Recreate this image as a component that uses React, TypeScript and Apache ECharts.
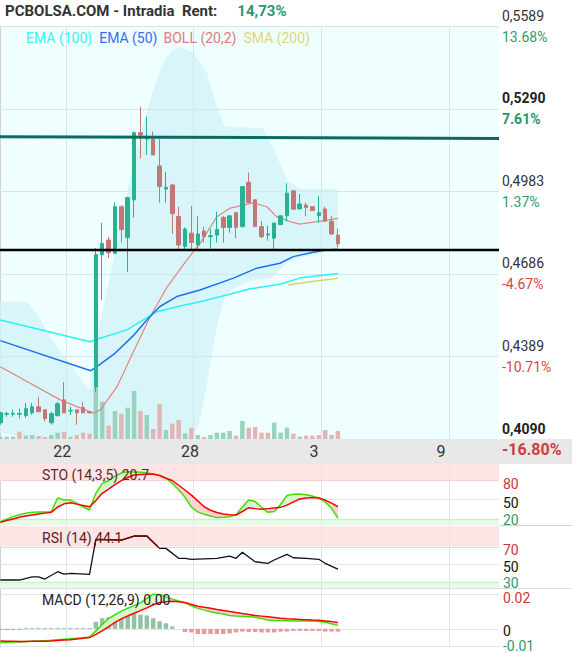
import React, { useEffect, useRef, useState } from 'react';
import * as echarts from 'echarts';

const W = 572;
const H = 653;
const FONT = 'Roboto, "Noto Sans", "DejaVu Sans", sans-serif';

// ---------- main chart data (x = candle index) ----------
// [open, close, low, high]
const candles: number[][] = [
  [0.4149, 0.4185, 0.4142, 0.4189], [0.4180, 0.4182, 0.4171, 0.4189], [0.4180, 0.4183, 0.4171, 0.4196],
  [0.4180, 0.4182, 0.4164, 0.4200], [0.4175, 0.4200, 0.4167, 0.4221], [0.4185, 0.4207, 0.4178, 0.4221],
  [0.4207, 0.4189, 0.4189, 0.4243], [0.4196, 0.4164, 0.4153, 0.4196], [0.4149, 0.4182, 0.4142, 0.4189],
  [0.4175, 0.4218, 0.4171, 0.4225], [0.4232, 0.4185, 0.4185, 0.4297], [0.4192, 0.4194, 0.4178, 0.4207],
  [0.4196, 0.4185, 0.4142, 0.4196], [0.4204, 0.4185, 0.4185, 0.4225], [0.4189, 0.4185, 0.4182, 0.4189],
  [0.4279, 0.4759, 0.4261, 0.4784], [0.4759, 0.4800, 0.4595, 0.4874], [0.4812, 0.4766, 0.4747, 0.4824],
  [0.4764, 0.4933, 0.4762, 0.4948], [0.4933, 0.4850, 0.4803, 0.4939], [0.4821, 0.4966, 0.4697, 0.4969],
  [0.4958, 0.5202, 0.4894, 0.5206], [0.5202, 0.5193, 0.5109, 0.5296], [0.5179, 0.5184, 0.5121, 0.5260],
  [0.5178, 0.5121, 0.5121, 0.5206], [0.5081, 0.5006, 0.4948, 0.5178], [0.4997, 0.5004, 0.4948, 0.5060],
  [0.5012, 0.4908, 0.4834, 0.5016], [0.4898, 0.4794, 0.4776, 0.4933], [0.4789, 0.4852, 0.4776, 0.4858],
  [0.4837, 0.4803, 0.4776, 0.4936], [0.4794, 0.4834, 0.4776, 0.4898], [0.4845, 0.4824, 0.4803, 0.4861],
  [0.4824, 0.4828, 0.4781, 0.4852], [0.4830, 0.4850, 0.4803, 0.4915], [0.4894, 0.4858, 0.4803, 0.4900],
  [0.4858, 0.4900, 0.4839, 0.4900], [0.4911, 0.4858, 0.4819, 0.4915], [0.4861, 0.5006, 0.4858, 0.5008],
  [0.5022, 0.4948, 0.4948, 0.5057], [0.4958, 0.4861, 0.4861, 0.4961], [0.4861, 0.4824, 0.4819, 0.4881],
  [0.4830, 0.4834, 0.4810, 0.4864], [0.4819, 0.4874, 0.4776, 0.4874], [0.4868, 0.4900, 0.4868, 0.4901],
  [0.4900, 0.4982, 0.4880, 0.5018], [0.4991, 0.4924, 0.4922, 0.4994], [0.4925, 0.4943, 0.4925, 0.4979],
  [0.4939, 0.4930, 0.4898, 0.4948], [0.4933, 0.4919, 0.4919, 0.4933], [0.4901, 0.4911, 0.4874, 0.4972],
  [0.4925, 0.4880, 0.4880, 0.4933], [0.4880, 0.4834, 0.4830, 0.4900], [0.4830, 0.4798, 0.4785, 0.4853],
];

const volumes = [
  7, 7, 7, 22, 10, 12, 9, 6, 12, 19,
  22, 6, 12, 19, 16, 155, 112, 40, 84, 76,
  94, 144, 84, 72, 30, 105, 27, 46, 57, 17,
  34, 12, 6, 12, 19, 19, 24, 10, 54, 34,
  36, 19, 19, 49, 19, 34, 16, 7, 10, 10,
  12, 27, 12, 24,
];
const volumeUp = [
  1, 1, 1, 0, 1, 1, 0, 0, 1, 1,
  0, 1, 0, 0, 0, 1, 1, 0, 1, 0,
  1, 1, 0, 1, 0, 0, 1, 0, 0, 1,
  0, 1, 0, 1, 1, 1, 1, 0, 1, 0,
  0, 0, 0, 1, 1, 1, 0, 1, 0, 0,
  0, 0, 0, 0,
];

const ema100: number[][] = [
  [0, 0.4522], [14.1, 0.4443], [15.65, 0.4456], [19.85, 0.4486], [22.45, 0.4522], [24.55, 0.4552],
  [27.7, 0.4570], [31.35, 0.4588], [35.55, 0.4613], [39.2, 0.4635], [43.9, 0.4652], [47, 0.4674], [53, 0.4691],
];
const ema50: number[][] = [
  [0, 0.4447], [14.2, 0.4338], [15, 0.4350], [18, 0.4401], [21, 0.4468], [23, 0.4522], [25, 0.4570],
  [27.7, 0.4607], [31.35, 0.4631], [36.5, 0.4673], [40.25, 0.4710], [43.9, 0.4728], [46, 0.4752],
  [49.1, 0.4768], [51.2, 0.4776], [53, 0.4779],
];
const sma200: number[][] = [[45.2, 0.4649], [48.6, 0.4661], [53, 0.4673]];
const bollMid: number[][] = [
  [0, 0.4352], [9.4, 0.4232], [14.6, 0.4184], [15.7, 0.4196], [18.3, 0.4279], [20.8, 0.4402],
  [23.5, 0.4533], [26.2, 0.4642], [29.3, 0.4740], [31.4, 0.4801], [34, 0.4897], [36.1, 0.4928],
  [39.7, 0.4947], [41.9, 0.4932], [43.4, 0.4896], [45.5, 0.4879], [47, 0.4870], [49.7, 0.4879], [53, 0.4891],
];
const bollUpper: number[][] = [
  [0, 0.4588], [4.2, 0.4587], [5.7, 0.4547], [7.8, 0.4460], [10.5, 0.4377], [13, 0.4293], [14, 0.4268],
  [15, 0.4431], [16, 0.4551], [17, 0.4656], [18, 0.4765], [19, 0.4878], [20, 0.4994], [21, 0.5103],
  [22, 0.5193], [23, 0.5277], [24, 0.5357], [25, 0.5422], [26, 0.5473], [27, 0.5502], [28.2, 0.5513],
  [30.3, 0.5491], [32.45, 0.5418], [34, 0.5295], [35.3, 0.5222], [41.2, 0.5219], [42.8, 0.5150],
  [45, 0.5030], [47.05, 0.4997], [53, 0.4997],
];
const bollLower: number[][] = [
  [0, 0.4115], [4.66, 0.4061], [9.4, 0.4014], [14, 0.4108], [15, 0.3941], [17.2, 0.3651], [21.9, 0.3433],
  [26.6, 0.3651], [30.25, 0.4047], [31.35, 0.4159], [32.45, 0.4293], [34, 0.4500], [35.3, 0.4613],
  [36.85, 0.4638], [39.2, 0.4664], [41.2, 0.4671], [42.8, 0.4678], [45, 0.4729], [47.05, 0.4747],
  [50.2, 0.4765], [53, 0.4783],
];
const resistanceLine = [0.5187, 0.5181];
const supportLine = [0.4776, 0.4776];

const priceGrid = [0.409, 0.43898, 0.46896, 0.49894, 0.52892, 0.5589];
const priceLabels = ['0,4090', '0,4389', '0,4686', '0,4983', '0,5290', '0,5589'];
const pctLabels = ['-16.80%', '-10.71%', '-4.67%', '1.37%', '7.61%', '13.68%'];
const boldLevels = [true, false, false, false, true, false];

const dayGridPos = [10.27, 30.27, 50.35, 70.44];
const dayLabelPos = [9.73, 29.78, 49.25, 69.2];
const dayLabels = ['22', '28', '3', '9'];

// ---------- indicators ----------
const stoK = [
  15, 19, 23, 26, 28.5, 30, 30.2, 30.4, 30.6, 52,
  48.8, 48.8, 44, 38, 33.3, 59.3, 74.9, 78.9, 86, 91,
  92.9, 92.5, 92, 91.4, 89, 87, 83, 75, 65, 53,
  38, 30.5, 26.6, 24, 21.5, 22, 22.8, 26, 38, 49,
  46.5, 38, 29.7, 31, 42, 56, 57.8, 58.1, 57, 55,
  52, 46, 36, 20.7,
];
const stoD = [
  14.1, 17, 19.5, 22, 24, 25.5, 27, 28.5, 29.7, 38,
  43, 44.5, 42.5, 40.5, 38.4, 48, 59.3, 66, 73, 79,
  84, 87.8, 88.5, 89, 89.3, 87, 82.9, 79.3, 71.9, 64.5,
  56.6, 47.5, 38.4, 33, 29.5, 27, 26, 25.5, 31, 36.9,
  35.5, 34.5, 35.5, 36.5, 37.5, 41, 46, 50.5, 52, 53,
  52, 48.8, 44, 38.4,
];
const rsi: number[][] = [
  [0, 31.7], [3, 31.7], [5, 35.4], [6, 35.4], [7, 32.8], [9, 41.2], [10, 38.5], [11, 39.3], [14, 38.2],
  [15, 78.2], [19, 77.4], [21, 82], [23, 82], [25, 67.9], [26, 67.9], [28, 56.5], [29, 56.5], [30, 55.4],
  [34, 56.5], [36, 59.1], [37, 56.5], [38, 63.4], [40, 52.6], [42, 50.8], [43, 54.6], [45, 61.1],
  [46, 57.2], [48, 56.5], [50, 55.4], [51, 50.8], [53, 44.1],
];
// the part of the RSI line drawn in dark red (above 70)
const rsiOverbought: number[][] = [[14.8, 70], [15, 78.2], [19, 77.4], [21, 82], [23, 82], [24.7, 70]];
const macdLine = [
  -0.0080, -0.0079, -0.0077, -0.0076, -0.0074, -0.0073, -0.0071, -0.0069, -0.0067, -0.0064,
  -0.0061, -0.0058, -0.0055, -0.0052, -0.0048, -0.0012, 0.0025, 0.0060, 0.0082, 0.0103,
  0.0120, 0.0135, 0.0151, 0.0178, 0.0202, 0.0200, 0.0186, 0.0173, 0.0162, 0.0150,
  0.0134, 0.0119, 0.0109, 0.0099, 0.0092, 0.0086, 0.0078, 0.0075, 0.0073, 0.0070,
  0.0067, 0.0060, 0.0052, 0.0049, 0.0048, 0.0047, 0.0046, 0.0046, 0.0046, 0.0045,
  0.0043, 0.0038, 0.0030, 0.0020,
];
const signalLine = [
  -0.0071, -0.0072, -0.0073, -0.0074, -0.0074, -0.0073, -0.0072, -0.0072, -0.0071, -0.0068,
  -0.0065, -0.0063, -0.0059, -0.0055, -0.0051, -0.0032, -0.0012, 0.0013, 0.0038, 0.0058,
  0.0075, 0.0091, 0.0106, 0.0122, 0.0140, 0.0153, 0.0158, 0.0161, 0.0158, 0.0154,
  0.0142, 0.0132, 0.0126, 0.0120, 0.0113, 0.0107, 0.0101, 0.0095, 0.0089, 0.0084,
  0.0078, 0.0074, 0.0070, 0.0066, 0.0062, 0.0059, 0.0057, 0.0055, 0.0053, 0.0051,
  0.0050, 0.0046, 0.0042, 0.0037,
];
const macdHist = [
  -0.0007, -0.0007, -0.0007, -0.0007, 0.0005, 0.0005, 0.0005, 0.0005, 0.0005, 0.0005,
  0.0005, 0.0005, 0.0005, 0.0005, 0.0005, 0.0041, 0.0062, 0.0067, 0.0074, 0.0080,
  0.0076, 0.0089, 0.0083, 0.0078, 0.0062, 0.0044, 0.0032, 0.0014, 0, -0.0018,
  -0.0021, -0.0030, -0.0030, -0.0030, -0.0030, -0.0030, -0.0027, -0.0021, -0.0016, -0.0018,
  -0.0018, -0.0021, -0.0021, -0.0021, -0.0016, -0.0016, -0.0012, -0.0012, -0.0012, -0.0012,
  -0.0012, -0.0016, -0.0016, -0.0016,
];

const stoTicks = [20, 50, 80];
const rsiTicks = [30, 50, 70];
const macdTicks = [-0.01, 0, 0.02];

const XMIN = -0.05;
const XMAX = 78.29;

function nearestIndex(arr: number[], v: number) {
  let best = 0;
  for (let i = 1; i < arr.length; i++) if (Math.abs(arr[i] - v) < Math.abs(arr[best] - v)) best = i;
  return best;
}

function fillBetween(a: number[], b: number[], upColor: string, downColor: string) {
  return (params: any, api: any) => {
    const i = params.dataIndex;
    if (i >= a.length - 1) return null;
    const a0 = a[i], a1 = a[i + 1], b0 = b[i], b1 = b[i + 1];
    const pA0 = api.coord([i, a0]);
    const pA1 = api.coord([i + 1, a1]);
    const pB0 = api.coord([i, b0]);
    const pB1 = api.coord([i + 1, b1]);
    const d0 = a0 - b0;
    const d1 = a1 - b1;
    if (d0 * d1 >= 0) {
      const col = d0 + d1 >= 0 ? upColor : downColor;
      return { type: 'polygon', shape: { points: [pA0, pA1, pB1, pB0] }, style: { fill: col } };
    }
    const t = d0 / (d0 - d1);
    const px = pA0[0] + (pA1[0] - pA0[0]) * t;
    const py = pA0[1] + (pA1[1] - pA0[1]) * t;
    return {
      type: 'group',
      children: [
        { type: 'polygon', shape: { points: [pA0, [px, py], pB0] }, style: { fill: d0 > 0 ? upColor : downColor } },
        { type: 'polygon', shape: { points: [[px, py], pA1, pB1] }, style: { fill: d1 > 0 ? upColor : downColor } },
      ],
    };
  };
}

type Level = { v: number; color: string };
type Band = { from: number; to: number; color: string };

// grid guides (bands, horizontal and vertical grid lines) placed through the axes' scales
function guideSeries(xi: number, yi: number, yMid: number, hLevels: Level[], bands: Band[], vColor: string, z: number) {
  return {
    type: 'custom',
    xAxisIndex: xi,
    yAxisIndex: yi,
    silent: true,
    z,
    data: [[0, yMid]],
    renderItem: (params: any, api: any) => {
      const cs = params.coordSys;
      const top = cs.y;
      const bottom = cs.y + cs.height;
      const children: any[] = [];
      bands.forEach((b) => {
        const y1 = Math.min(Math.max(api.coord([0, b.from])[1], top), bottom);
        const y2 = Math.min(Math.max(api.coord([0, b.to])[1], top), bottom);
        children.push({
          type: 'rect',
          shape: { x: cs.x, y: Math.min(y1, y2), width: cs.width, height: Math.abs(y2 - y1) },
          style: { fill: b.color },
        });
      });
      dayGridPos.forEach((v) => {
        const x = Math.round(api.coord([v, yMid])[0]) + 0.5;
        children.push({ type: 'line', shape: { x1: x, y1: top, x2: x, y2: bottom }, style: { stroke: vColor, lineWidth: 1 } });
      });
      hLevels.forEach((l) => {
        const y = Math.round(api.coord([0, l.v])[1]) + 0.5;
        children.push({ type: 'line', shape: { x1: cs.x, y1: y, x2: cs.x + cs.width, y2: y }, style: { stroke: l.color, lineWidth: 1 } });
      });
      return { type: 'group', children };
    },
  };
}

function buildOption(): any {
  const subLabel = (ticks: number[], labels: string[], styles: string[], pads: number[]) => ({
    customValues: ticks,
    margin: 4,
    formatter: (v: number) => {
      const k = nearestIndex(ticks, v);
      return `{${styles[k]}${k}|${labels[k]}}`;
    },
    rich: {
      r2: { fontSize: 14, color: '#cc3838', fontFamily: FONT, padding: [pads[2], 0, 0, 0] },
      k1: { fontSize: 14, color: '#111111', fontFamily: FONT, padding: [pads[1], 0, 0, 0] },
      g0: { fontSize: 14, color: '#2e9a6c', fontFamily: FONT, padding: [pads[0], 0, 0, 0] },
    },
  });
  const lineBase = { type: 'line', symbol: 'none', silent: true, animation: false };

  const series: any[] = [];

  // main: Bollinger band shading
  series.push({
    type: 'custom',
    xAxisIndex: 0,
    yAxisIndex: 0,
    silent: true,
    z: 1,
    data: [[0, 0.45]],
    renderItem: (params: any, api: any) => {
      const cs = params.coordSys;
      const bottom = cs.y + cs.height;
      const clamp = (p: number[]) => [p[0], Math.min(Math.max(p[1], cs.y), bottom)];
      const pts = bollUpper
        .map((p) => clamp(api.coord(p)))
        .concat(bollLower.slice().reverse().map((p) => clamp(api.coord(p))));
      return { type: 'polygon', shape: { points: pts }, style: { fill: '#d8f6f9' } };
    },
  });
  series.push(
    guideSeries(0, 0, 0.45, priceGrid.slice(1).map((v) => ({ v, color: '#d3e9e9' })), [], '#d3e9e9', 2),
  );
  // volume
  series.push({
    type: 'bar',
    xAxisIndex: 0,
    yAxisIndex: 1,
    barWidth: 4.5,
    silent: true,
    z: 3,
    data: volumes.map((v, i) => ({
      value: [i, v],
      itemStyle: { color: volumeUp[i] ? '#98d3bf' : '#e3b6b6' },
    })),
  });
  series.push({ ...lineBase, name: 'BOLL', xAxisIndex: 0, yAxisIndex: 0, z: 4, data: bollMid, lineStyle: { color: '#e38585', width: 1.2 } });
  series.push({ ...lineBase, name: 'EMA100', xAxisIndex: 0, yAxisIndex: 0, z: 4, data: ema100, lineStyle: { color: '#2ef0f4', width: 1.5 } });
  series.push({ ...lineBase, name: 'EMA50', xAxisIndex: 0, yAxisIndex: 0, z: 4, data: ema50, lineStyle: { color: '#1f6ff2', width: 1.5 } });
  series.push({ ...lineBase, name: 'SMA200', xAxisIndex: 0, yAxisIndex: 0, z: 4, data: sma200, lineStyle: { color: '#dcd160', width: 1.5 } });
  series.push({
    type: 'candlestick',
    xAxisIndex: 0,
    yAxisIndex: 0,
    barWidth: 4,
    silent: true,
    z: 5,
    data: candles.map((c, i) => [i, c[0], c[1], c[2], c[3]]),
    itemStyle: { color: '#27b291', color0: '#c47777', borderColor: '#27b291', borderColor0: '#c47777', borderWidth: 1 },
  });
  series.push({
    ...lineBase,
    xAxisIndex: 0,
    yAxisIndex: 0,
    z: 6,
    data: [[XMIN, resistanceLine[0]], [XMAX, resistanceLine[1]]],
    lineStyle: { color: '#0b6b62', width: 3 },
  });
  series.push({
    ...lineBase,
    xAxisIndex: 0,
    yAxisIndex: 0,
    z: 6,
    data: [[XMIN, supportLine[0]], [XMAX, supportLine[1]]],
    lineStyle: { color: '#000000', width: 2.5 },
  });

  // STO
  series.push(
    guideSeries(
      1, 2, 50,
      [{ v: 50, color: '#e4e4e4' }, { v: 80, color: '#f2d2d2' }, { v: 20, color: '#cdeccd' }],
      [{ from: 80, to: 105, color: '#fde5e5' }, { from: 10, to: 20, color: '#e5fbe5' }],
      '#e4e4e4', 1,
    ),
  );
  series.push({
    type: 'custom',
    xAxisIndex: 1,
    yAxisIndex: 2,
    silent: true,
    z: 2,
    data: stoK.slice(0, stoK.length - 1).map((v, i) => [i, v]),
    renderItem: fillBetween(stoK, stoD, '#d6f8cf', '#fbd2d2'),
  });
  series.push({ ...lineBase, xAxisIndex: 1, yAxisIndex: 2, z: 3, data: stoK.map((v, i) => [i, v]), lineStyle: { color: '#3ee000', width: 1.5 } });
  series.push({ ...lineBase, xAxisIndex: 1, yAxisIndex: 2, z: 3, data: stoD.map((v, i) => [i, v]), lineStyle: { color: '#ff0000', width: 1.5 } });

  // RSI
  series.push(
    guideSeries(
      2, 3, 50,
      [{ v: 50, color: '#e4e4e4' }, { v: 70, color: '#f2d2d2' }, { v: 30, color: '#cdeccd' }],
      [{ from: 70, to: 93.5, color: '#fde5e5' }, { from: 22, to: 30, color: '#e5fbe5' }],
      '#e4e4e4', 1,
    ),
  );
  series.push({ ...lineBase, xAxisIndex: 2, yAxisIndex: 3, z: 3, data: rsi, lineStyle: { width: 1.3, color: '#111111' } });
  series.push({ ...lineBase, xAxisIndex: 2, yAxisIndex: 3, z: 4, data: rsiOverbought, lineStyle: { width: 1.4, color: '#7b0000' } });

  // MACD
  series.push(
    guideSeries(3, 4, 0, macdTicks.map((v) => ({ v, color: '#e4e4e4' })), [], '#e4e4e4', 1),
  );
  series.push({
    type: 'bar',
    xAxisIndex: 3,
    yAxisIndex: 4,
    barWidth: 4.5,
    silent: true,
    z: 2,
    data: macdHist.map((v, i) => ({ value: [i, v], itemStyle: { color: v >= 0 ? '#90c2a5' : '#e29c9c' } })),
  });
  series.push({
    type: 'custom',
    xAxisIndex: 3,
    yAxisIndex: 4,
    silent: true,
    z: 3,
    data: macdLine.slice(0, macdLine.length - 1).map((v, i) => [i, v]),
    renderItem: fillBetween(macdLine, signalLine, '#d6f8cf', '#fbd2d2'),
  });
  series.push({ ...lineBase, xAxisIndex: 3, yAxisIndex: 4, z: 4, data: macdLine.map((v, i) => [i, v]), lineStyle: { color: '#3ee000', width: 1.5 } });
  series.push({ ...lineBase, xAxisIndex: 3, yAxisIndex: 4, z: 4, data: signalLine.map((v, i) => [i, v]), lineStyle: { color: '#ff0000', width: 1.5 } });

  const xAxisBase = (gi: number) => ({
    type: 'value',
    gridIndex: gi,
    min: XMIN,
    max: XMAX,
    axisLine: { show: false },
    axisTick: { show: false },
    splitLine: { show: false },
    axisLabel: { show: false },
  });

  const sideAxisLine = { show: true, lineStyle: { color: '#d2d2d2', width: 1 } };

  return {
    animation: false,
    backgroundColor: '#ffffff',
    textStyle: { fontFamily: FONT },
    title: [
      {
        left: 5,
        top: 2,
        padding: 0,
        text: '{a|PCBOLSA.COM - Intradia  Rent:}{g|14,73%}',
        textStyle: {
          fontFamily: FONT,
          rich: {
            a: { fontSize: 15, fontWeight: 'bold', color: '#333333', lineHeight: 18, fontFamily: FONT },
            g: { fontSize: 15, fontWeight: 'bold', color: '#2e9670', lineHeight: 18, padding: [0, 0, 0, 20], fontFamily: FONT },
          },
        },
      },
      {
        left: 26,
        top: 29,
        padding: 0,
        text: '{c|EMA (100)}{b|EMA (50)}{r|BOLL (20,2)}{y|SMA (200)}',
        textStyle: {
          fontFamily: FONT,
          fontSize: 14,
          fontWeight: 'normal',
          rich: {
            c: { fontSize: 14, color: '#3ef0f6', lineHeight: 18, fontFamily: FONT, padding: [0, 7, 0, 0] },
            b: { fontSize: 14, color: '#3a6bf2', lineHeight: 18, fontFamily: FONT, padding: [0, 6, 0, 0] },
            r: { fontSize: 14, color: '#e27a7a', lineHeight: 18, fontFamily: FONT, padding: [0, 7, 0, 0] },
            y: { fontSize: 14, color: '#e0d57c', lineHeight: 18, fontFamily: FONT },
          },
        },
      },
      { left: 42, top: 466, padding: 0, text: 'STO (14,3,5) 20.7', textStyle: { fontFamily: FONT, fontSize: 14, fontWeight: 'normal', color: '#5a2b2b', lineHeight: 18 } },
      { left: 42, top: 529, padding: 0, text: 'RSI (14) 44.1', textStyle: { fontFamily: FONT, fontSize: 14, fontWeight: 'normal', color: '#5a2222', lineHeight: 18 } },
      { left: 42, top: 591, padding: 0, text: 'MACD (12,26,9) 0.00', textStyle: { fontFamily: FONT, fontSize: 14, fontWeight: 'normal', color: '#222222', lineHeight: 18 } },
    ],
    graphic: [
      { type: 'rect', z: -10, silent: true, shape: { x: 0, y: 439, width: W, height: 25 }, style: { fill: '#e8e8e8' } },
      { type: 'line', z: 10, silent: true, shape: { x1: 499, y1: 525.5, x2: W, y2: 525.5 }, style: { stroke: '#d4d4d4', lineWidth: 1 } },
      { type: 'line', z: 10, silent: true, shape: { x1: 0, y1: 588.5, x2: W, y2: 588.5 }, style: { stroke: '#dddddd', lineWidth: 1 } },
    ],
    grid: [
      { left: 0, top: 26, width: 499, height: 413, show: true, backgroundColor: '#effefe', borderWidth: 0 },
      { left: 0, top: 464, width: 499, height: 61 },
      { left: 0, top: 526, width: 499, height: 62.5 },
      { left: 0, top: 589, width: 499, height: 64 },
    ],
    xAxis: [
      {
        ...xAxisBase(0),
        axisLabel: {
          show: true,
          customValues: dayLabelPos,
          margin: 4,
          fontSize: 16,
          color: '#333333',
          fontFamily: FONT,
          formatter: (v: number) => dayLabels[nearestIndex(dayLabelPos, v)],
        },
      },
      xAxisBase(1),
      xAxisBase(2),
      xAxisBase(3),
    ],
    yAxis: [
      {
        type: 'value',
        gridIndex: 0,
        position: 'right',
        min: 0.409,
        max: 0.5589,
        axisLine: sideAxisLine,
        axisTick: { show: false },
        splitLine: { show: false },
        axisLabel: {
          customValues: priceGrid,
          margin: 3,
          formatter: (v: number) => {
            const k = nearestIndex(priceGrid, v);
            const b = boldLevels[k];
            const neg = pctLabels[k].charAt(0) === '-';
            return `{${b ? 'pb' : 'p'}|${priceLabels[k]}}\n{${neg ? 'n' : 'g'}${b ? 'b' : ''}|${pctLabels[k]}}`;
          },
          rich: {
            p: { fontSize: 14, color: '#333333', lineHeight: 21, fontFamily: FONT },
            pb: { fontSize: 14, fontWeight: 'bold', color: '#222222', lineHeight: 21, fontFamily: FONT },
            g: { fontSize: 14, color: '#2f9b6c', lineHeight: 21, fontFamily: FONT },
            gb: { fontSize: 14, fontWeight: 'bold', color: '#2a9568', lineHeight: 21, fontFamily: FONT },
            n: { fontSize: 14, color: '#d84545', lineHeight: 21, fontFamily: FONT },
            nb: { fontSize: 16, fontWeight: 'bold', color: '#d03c3c', lineHeight: 21, fontFamily: FONT },
          },
        },
      },
      { type: 'value', gridIndex: 0, min: 0, max: 1239, show: false },
      {
        type: 'value',
        gridIndex: 1,
        position: 'right',
        min: 10,
        max: 105,
        axisLine: sideAxisLine,
        axisTick: { show: false },
        splitLine: { show: false },
        axisLabel: subLabel(stoTicks, ['20', '50', '80'], ['g', 'k', 'r'], [3, 7, 7]),
      },
      {
        type: 'value',
        gridIndex: 2,
        position: 'right',
        min: 22,
        max: 93.5,
        axisLine: sideAxisLine,
        axisTick: { show: false },
        splitLine: { show: false },
        axisLabel: subLabel(rsiTicks, ['30', '50', '70'], ['g', 'k', 'r'], [2, 6, 6]),
      },
      {
        type: 'value',
        gridIndex: 3,
        position: 'right',
        min: -0.0108,
        max: 0.0232,
        axisLine: sideAxisLine,
        axisTick: { show: false },
        splitLine: { show: false },
        axisLabel: subLabel(macdTicks, ['-0.01', '0', '0.02'], ['g', 'k', 'r'], [0, 5, 8]),
      },
    ],
    series,
  };
}

export default function App() {
  const ref = useRef<HTMLDivElement>(null);
  const [err, setErr] = useState<string>('');
  useEffect(() => {
    if (!ref.current) return;
    const chart = echarts.init(ref.current, null, { renderer: 'svg' });
    try {
      chart.setOption(buildOption());
    } catch (e: any) {
      setErr(String(e && e.stack ? e.stack : e));
    }
    return () => {
      chart.dispose();
    };
  }, []);
  return (
    <>
      <div
        ref={ref}
        style={{ position: 'fixed', left: 0, top: 0, width: W, height: H, background: '#ffffff' }}
      />
      {err ? (
        <pre style={{ position: 'fixed', left: 0, top: 0, fontSize: 9, whiteSpace: 'pre-wrap', width: W, margin: 0, color: '#000', background: '#fff' }}>{err}</pre>
      ) : null}
    </>
  );
}
